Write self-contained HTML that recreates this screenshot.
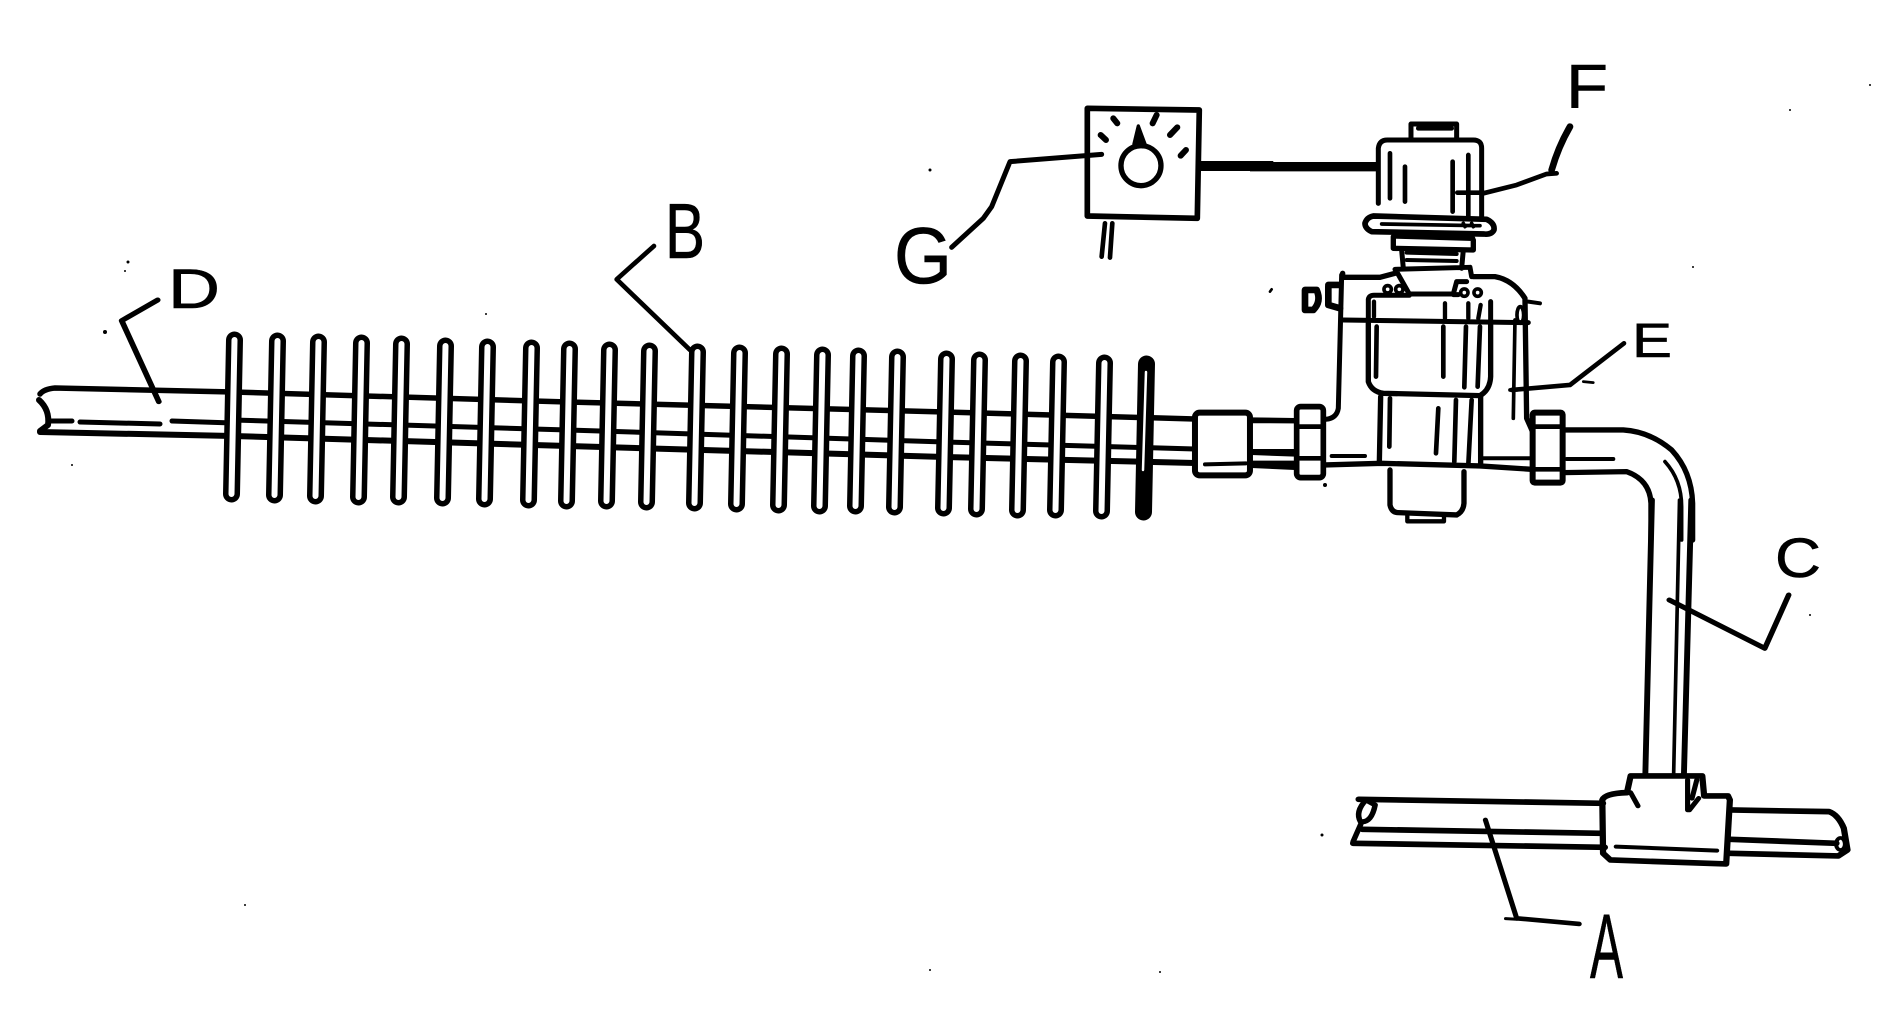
<!DOCTYPE html>
<html><head><meta charset="utf-8"><style>
html,body{margin:0;padding:0;background:#fff}
svg{display:block}
text{font-family:"Liberation Sans",sans-serif;fill:#000;stroke:#000;stroke-width:.6}
.s path,.s rect,.s circle,.s ellipse,.s polyline{fill:none;stroke:#000;stroke-linecap:round;stroke-linejoin:round}
</style></head><body>
<svg width="1896" height="1011" viewBox="0 0 1896 1011" xmlns="http://www.w3.org/2000/svg">
<rect width="1896" height="1011" fill="#fff"/>

<!-- tube with fins -->
<g class="s">
<path stroke-width="5.500" d="M40 394Q44 389 55 388L233 392L568 402L945 412L1195 419"/>
<path stroke-width="5" d="M233 420L568 430L945 442L1195 449"/>
<path stroke-width="6" d="M40 432L233 436L568 446L945 457L1195 463"/>
<path stroke-width="5" d="M48 421H72M80 422L160 424M172 421L233 423"/>
<path stroke-width="6" d="M39 400Q50 410 48 425L40 431"/>
<path stroke-width="17" d="M234.500 340L231.500 494M277.500 341L274.500 495M318.500 342L315.500 496M361.500 343L358.500 497M401.500 344L398.500 497M445.500 346L442.500 498M487.500 347L484.500 499M531.500 348L528.500 500M569.500 349L566.500 501M609.500 350L606.500 501M649.500 351L646.500 502M697.500 352L694.500 503M739.500 353L736.500 504M781.500 354L778.500 505M822.500 355L819.500 506M858.500 356L855.500 506M897.500 357L894.500 507M946.500 359L943.500 508M979.500 360L976.500 509M1020.500 361L1017.500 510M1058.500 362L1055.500 510M1104.500 363L1101.500 511M1146.500 364L1143.500 512"/>
<path style="stroke:#fff" stroke-width="6" d="M234.500 340L231.500 494M277.500 341L274.500 495M318.500 342L315.500 496M361.500 343L358.500 497M401.500 344L398.500 497M445.500 346L442.500 498M487.500 347L484.500 499M531.500 348L528.500 500M569.500 349L566.500 501M609.500 350L606.500 501M649.500 351L646.500 502M697.500 352L694.500 503M739.500 353L736.500 504M781.500 354L778.500 505M822.500 355L819.500 506M858.500 356L855.500 506M897.500 357L894.500 507M946.500 359L943.500 508M979.500 360L976.500 509M1020.500 361L1017.500 510M1058.500 362L1055.500 510M1104.500 363L1101.500 511"/>
<path style="stroke:#fff" stroke-width="2.500" d="M1146 372L1143 470"/>
</g>

<!-- leaders D, B -->
<g class="s" transform="translate(0,200) scale(0.3827,0.3333)"><path stroke-width="15" d="M412 300L318 362L415 605"/></g>
<g class="s" transform="translate(550,200) scale(0.3333)"><path stroke-width="14" d="M312 138L200 238L420 450"/></g>

<!-- coupling -->
<g class="s" transform="translate(950,320) scale(0.3333)">
<rect x="735" y="278" width="165" height="188" rx="14" style="fill:#fff" stroke-width="18"/>
<path stroke-width="12" d="M765 433L888 430"/>
<path stroke-width="16" d="M905 300L1035 302M905 397L1035 402M905 436L1035 442"/>
</g>

<!-- gauge -->
<g class="s" transform="translate(850,90) scale(0.3333)">
<path stroke-width="17" d="M712 55L1048 60L1042 385L712 378Z"/>
<circle cx="873" cy="227" r="60" stroke-width="16"/>
<path stroke-width="10" style="fill:#000" d="M865 108L852 162H885Z"/>
<path stroke-width="18" d="M790 85L802 100M752 135L768 150M908 100L920 75M960 135L982 112M992 197L1008 180"/>
<path stroke-width="15" d="M755 193L480 215L425 350L400 385L305 472"/>
<path stroke-width="14" d="M765 400L755 500M787 400L780 503"/>
<path stroke-width="30" style="stroke-linecap:butt" d="M1050 228H1270"/>
</g>

<!-- valve -->
<g class="s" transform="translate(1250,60) scale(0.3333)">
<path stroke-width="28" style="stroke-linecap:butt" d="M0 320H385"/>
<path stroke-width="15" d="M385 430V265Q388 240 412 240H670Q695 240 695 265V470"/>
<path stroke-width="15" d="M483 235V192H620V235"/>
<ellipse cx="525" cy="217" rx="20" ry="10" stroke-width="0"/>
<path stroke-width="14" d="M505 205H605"/>
<path stroke-width="14" d="M420 280V415M465 320V425M608 305V455M655 285V470M622 398H700"/>
<path stroke-width="17" d="M370 468L710 478Q735 490 732 510Q725 525 700 522L365 515Q345 505 345 490Q350 472 370 468Z"/>
<path stroke-width="11" d="M395 492L690 497M640 490L645 500M665 490L670 500"/>
<path stroke-width="16" d="M430 530V565L670 570V540M432 528L668 535"/>
<path stroke-width="12" d="M470 578L620 582M470 600L620 603"/>
<path stroke-width="15" d="M455 570L460 625M640 570L635 625M435 628L660 622L665 650M440 635L478 702L610 702L620 665H650"/>
<path stroke-width="16" d="M278 640V652H390L435 640M670 650H735Q790 660 825 715L830 1075L850 1120"/>
<path stroke-width="15" d="M275 645L265 1045Q260 1075 228 1078"/>
<path stroke-width="12" d="M835 725L870 730"/>
<path stroke-width="11" d="M795 780L790 1075M780 990H800"/>
<ellipse cx="811" cy="765" rx="10" ry="25" stroke-width="11"/>
<circle cx="413" cy="688" r="11" stroke-width="11"/><circle cx="448" cy="688" r="11" stroke-width="11"/>
<circle cx="643" cy="698" r="11" stroke-width="11"/><circle cx="683" cy="698" r="11" stroke-width="11"/>
<path stroke-width="15" d="M355 780V718Q358 706 372 706H478M610 704H625M722 780V725"/>
<path stroke-width="15" d="M280 780L835 788"/>
<path stroke-width="13" d="M372 725V770M585 730V775M655 730V775M692 735L685 775"/>
<path stroke-width="16" d="M355 790V965Q365 995 400 1000L690 1007Q720 990 722 950V790"/>
<path stroke-width="14" d="M380 800L378 950M580 800V950M648 800L643 982M690 800L683 980"/>
<path stroke-width="16" d="M392 1010L388 1210M692 1010V1210"/>
<path stroke-width="14" d="M420 1015L418 1160M565 1045L558 1180M618 1020L613 1205M665 1020L655 1215"/>
<path stroke-width="16" d="M225 1215L395 1210L690 1218L845 1228"/>
<path stroke-width="12" d="M245 1188H345M700 1195H840M950 1197H1090"/>
<path stroke-width="16" d="M420 1230V1335Q425 1358 445 1358L620 1365Q640 1355 642 1330V1235"/>
<path stroke-width="13" d="M472 1365V1384H582V1365"/>
<path stroke-width="16" d="M0 1082H135M0 1175H135M0 1210H135"/>
<rect x="140" y="1040" width="80" height="213" rx="12" style="fill:#fff" stroke-width="17"/>
<path stroke-width="14" d="M145 1100H215M145 1195H215"/>
<rect x="848" y="1058" width="90" height="210" rx="6" style="fill:#fff" stroke-width="18"/>
<path stroke-width="14" d="M850 1100H935M850 1228H935"/>
<path stroke-width="16" d="M940 1110H1120Q1200 1115 1265 1170Q1325 1235 1328 1330V1440"/>
<path stroke-width="16" d="M940 1238L1130 1235Q1200 1260 1203 1330V1440"/>
<path stroke-width="11" d="M1245 1205Q1295 1260 1295 1340V1440"/>
<path stroke-width="20" d="M165 690V750H190Q215 725 200 690ZM235 675H270M235 680V735L270 745"/>
<path stroke-width="14" d="M700 400L800 375L890 342L920 340"/>
<path stroke-width="20" d="M905 330Q925 260 960 200"/>
<path stroke-width="14" d="M785 990L960 975L1122 850"/>
<path stroke-width="8" d="M1000 965L1030 968M60 695L65 688"/>
</g>

<!-- vertical pipe, tee, pipe A -->
<g class="s" transform="translate(1320,500) scale(0.3676,0.3333)">
<path stroke-width="16" d="M903 0L885 825M1010 0L990 825"/>
<path stroke-width="10" d="M978 0L962 825"/>
<path stroke-width="17" d="M105 898L770 910M115 988L765 1000M90 1030L775 1042"/>
<path stroke-width="15" d="M125 900Q95 935 110 965Q140 970 150 915ZM112 970L90 1025"/>
<path stroke-width="17" d="M1115 930L1385 935Q1410 945 1425 985L1435 1050L1410 1068L1115 1060M1115 1018L1405 1030"/>
<ellipse cx="1416" cy="1032" rx="12" ry="18" stroke-width="11"/>
<path stroke-width="17" d="M768 900Q775 880 835 878L845 828H1040L1045 888H1110L1115 900L1105 1092L790 1080L770 1060Z"/>
<path stroke-width="14" d="M845 878L865 918M1000 840V930M1030 895L1005 930M1025 840L1012 895"/>
<path stroke-width="12" d="M805 1040L1080 1052"/>
<path stroke-width="14" d="M450 960L535 1255L705 1272"/>
<path stroke-width="9" d="M505 1256L535 1258"/>
<path stroke-width="15" d="M950 300L1210 445L1275 285"/>
</g>

<!-- labels -->
<text x="1590" y="978" font-size="92" textLength="33" lengthAdjust="spacingAndGlyphs">A</text>
<text x="665" y="258" font-size="78" textLength="40" lengthAdjust="spacingAndGlyphs">B</text>
<text x="1775" y="577" font-size="56" textLength="46" lengthAdjust="spacingAndGlyphs">C</text>
<text x="168" y="308" font-size="56" textLength="52" lengthAdjust="spacingAndGlyphs">D</text>
<text x="1632" y="357" font-size="48" textLength="40" lengthAdjust="spacingAndGlyphs">E</text>
<text x="1566" y="108" font-size="62" textLength="42" lengthAdjust="spacingAndGlyphs">F</text>
<text x="894" y="283" font-size="80" textLength="58" lengthAdjust="spacingAndGlyphs">G</text>

<!-- specks -->
<g fill="#000">
<circle cx="105" cy="332" r="2"/><circle cx="128" cy="262" r="1.500"/><circle cx="125" cy="271" r="1"/>
<circle cx="72" cy="465" r="1"/><circle cx="486" cy="314" r="1"/><circle cx="1790" cy="110" r="1"/>
<circle cx="930" cy="170" r="1.500"/><circle cx="1325" cy="485" r="2"/><circle cx="1810" cy="615" r="1"/>
<circle cx="1322" cy="835" r="1.500"/><circle cx="1160" cy="972" r="1"/><circle cx="930" cy="970" r="1"/>
<circle cx="1693" cy="267" r="1"/><circle cx="1870" cy="85" r="1"/><circle cx="245" cy="905" r="1"/>
</g>
</svg>
</body></html>
